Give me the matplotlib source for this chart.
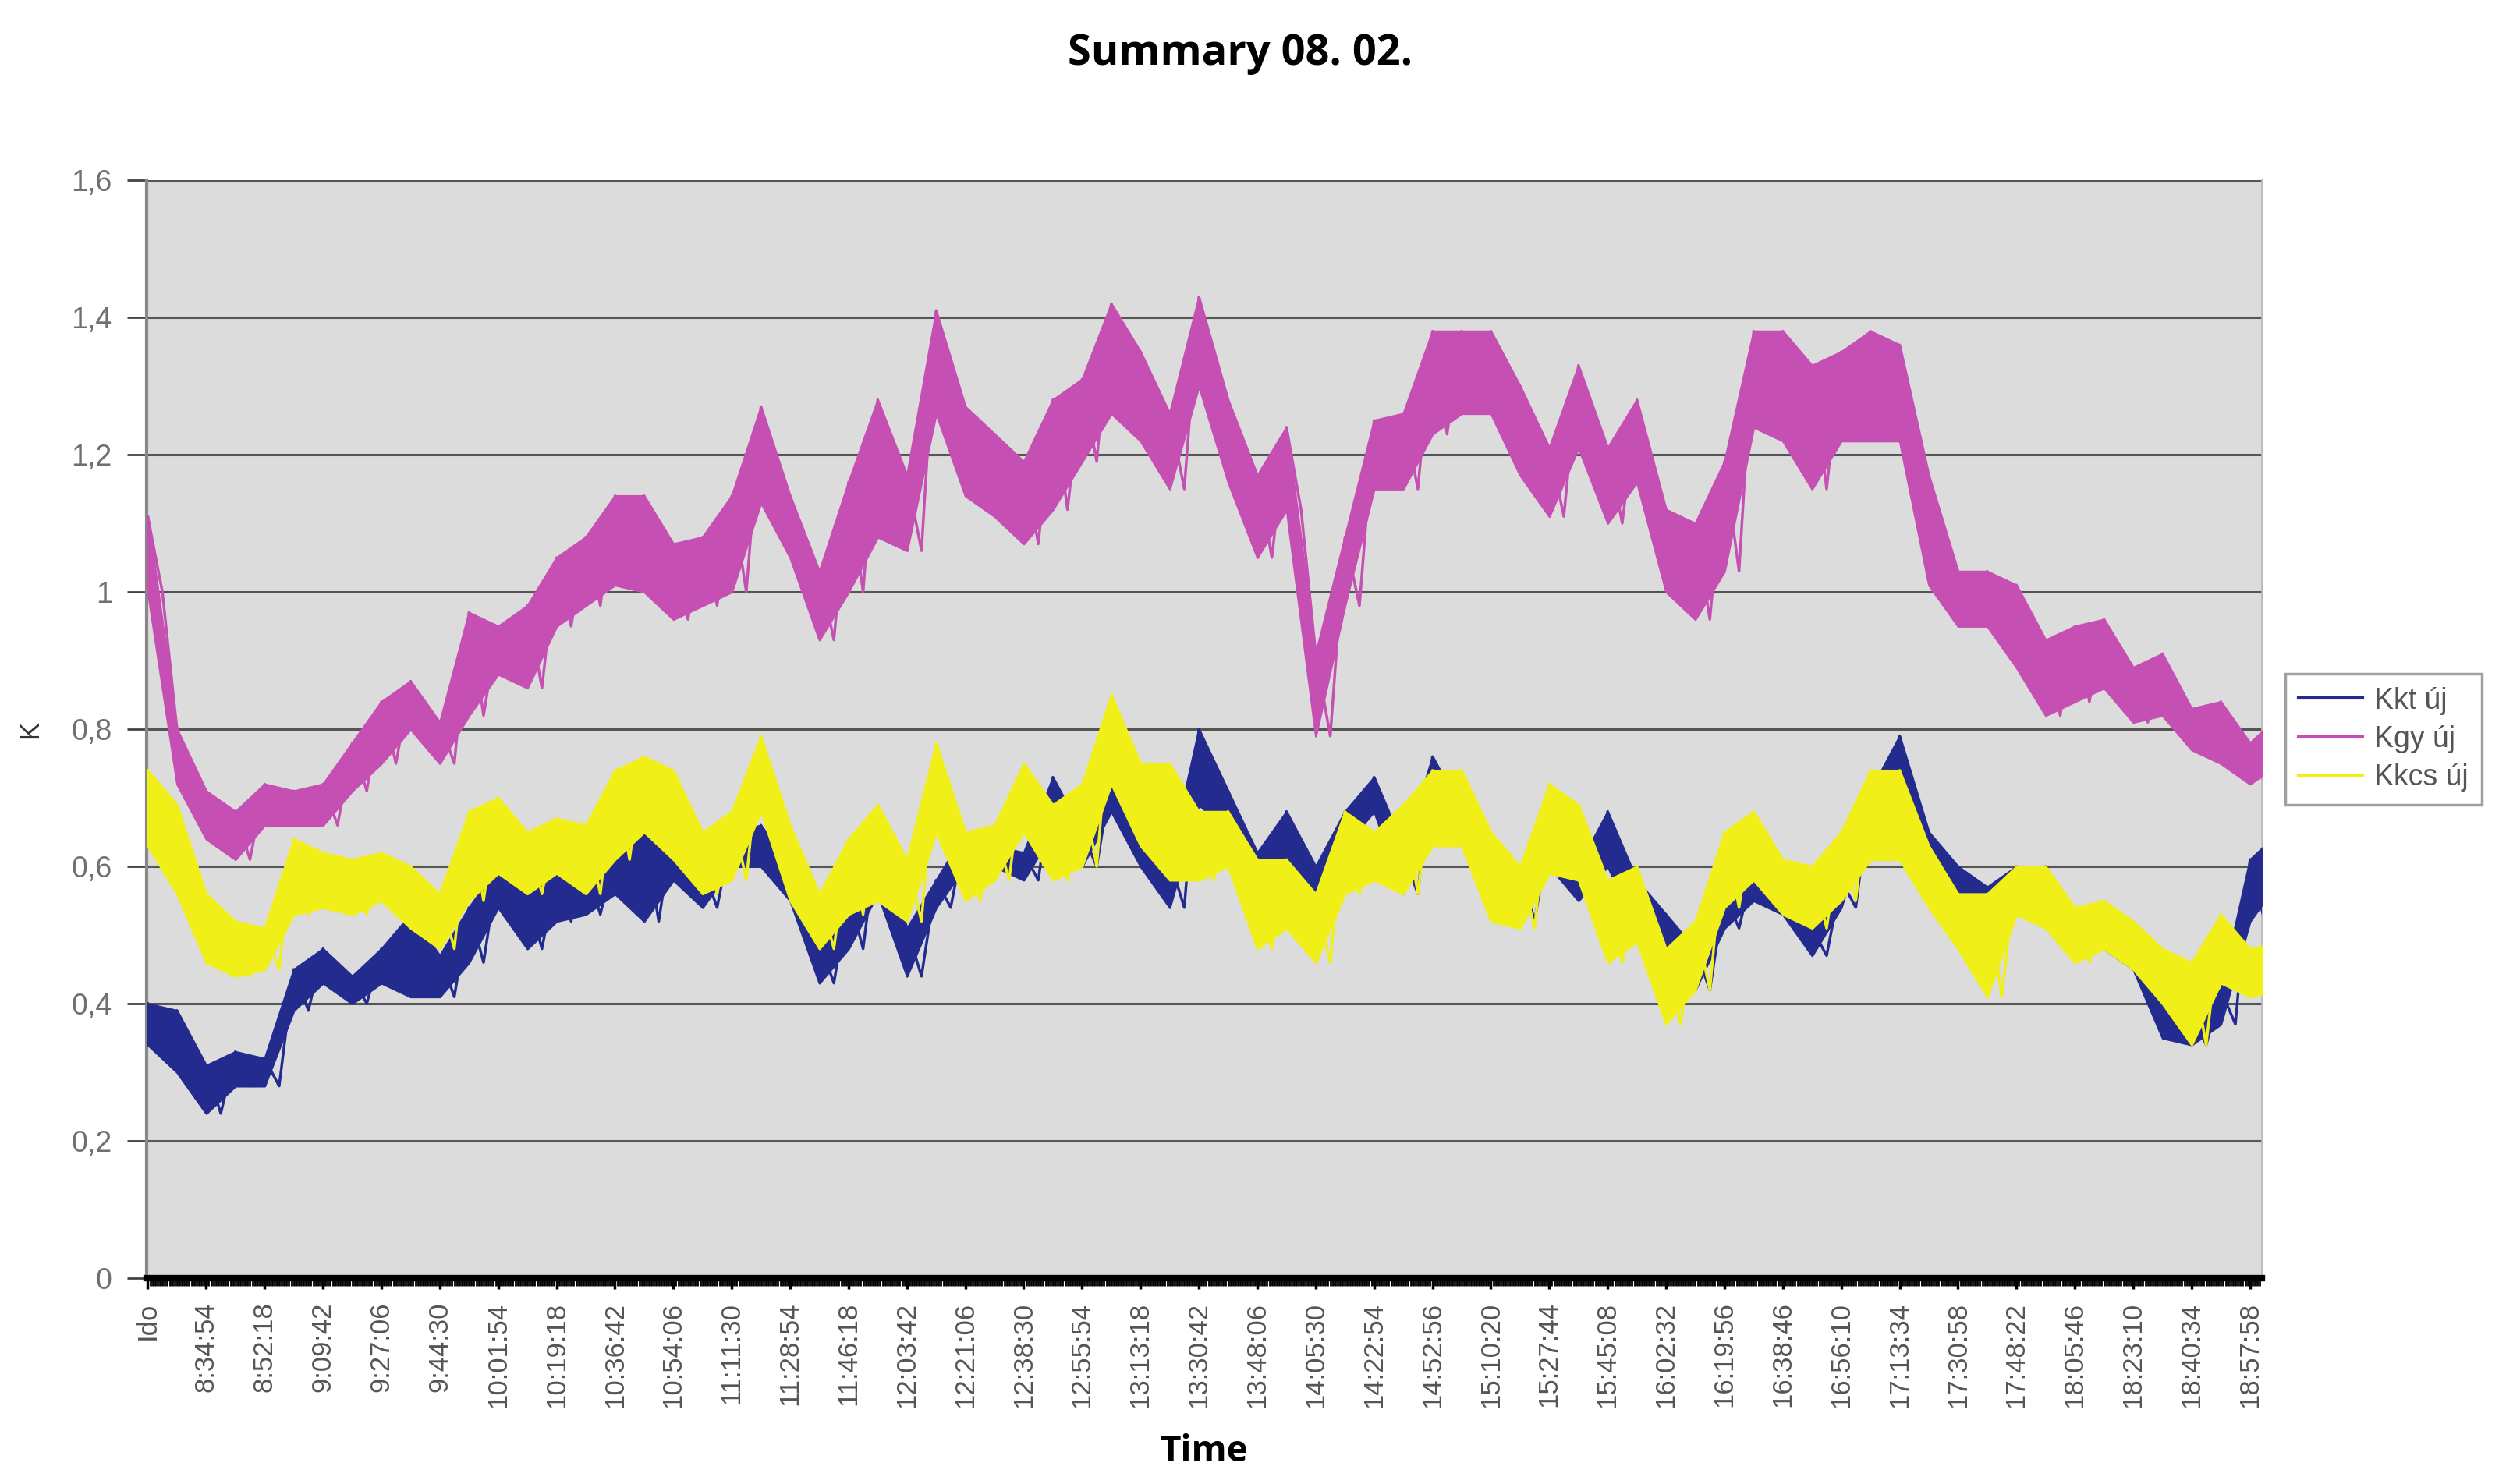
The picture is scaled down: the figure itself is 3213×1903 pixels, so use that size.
import numpy as np
import matplotlib
matplotlib.use("Agg")
import matplotlib.pyplot as plt
from matplotlib.lines import Line2D

# time labels on the category axis (one label every 17:24)
time_labels = ["Ido", "8:34:54", "8:52:18", "9:09:42", "9:27:06", "9:44:30",
               "10:01:54", "10:19:18", "10:36:42", "10:54:06", "11:11:30",
               "11:28:54", "11:46:18", "12:03:42", "12:21:06", "12:38:30",
               "12:55:54", "13:13:18", "13:30:42", "13:48:06", "14:05:30",
               "14:22:54", "14:52:56", "15:10:20", "15:27:44", "15:45:08",
               "16:02:32", "16:19:56", "16:38:46", "16:56:10", "17:13:34",
               "17:30:58", "17:48:22", "18:05:46", "18:23:10", "18:40:34",
               "18:57:58"]

# upper / lower edge of each noisy trace, read every half label step
kkt_hi = [0.40, 0.39, 0.31, 0.33, 0.32, 0.45, 0.48, 0.44, 0.48, 0.53, 0.47, 0.54,
          0.60, 0.56, 0.59, 0.60, 0.62, 0.65, 0.66, 0.60, 0.65, 0.66, 0.60, 0.49,
          0.56, 0.65, 0.51, 0.58, 0.65, 0.63, 0.62, 0.73, 0.65, 0.73, 0.65, 0.61,
          0.80, 0.71, 0.62, 0.68, 0.60, 0.68, 0.73, 0.62, 0.76, 0.68, 0.61, 0.60,
          0.65, 0.60, 0.68, 0.58, 0.53, 0.48, 0.56, 0.60, 0.56, 0.51, 0.58, 0.71,
          0.79, 0.65, 0.60, 0.57, 0.60, 0.60, 0.53, 0.51, 0.49, 0.40, 0.39, 0.42, 0.61, 0.65]
kkt_lo = [0.34, 0.30, 0.24, 0.28, 0.28, 0.39, 0.43, 0.40, 0.43, 0.41, 0.41, 0.46,
          0.54, 0.48, 0.52, 0.53, 0.56, 0.52, 0.58, 0.54, 0.60, 0.60, 0.55, 0.43,
          0.48, 0.56, 0.44, 0.54, 0.60, 0.60, 0.58, 0.65, 0.60, 0.68, 0.60, 0.54,
          0.69, 0.65, 0.56, 0.59, 0.53, 0.63, 0.68, 0.56, 0.72, 0.65, 0.56, 0.52,
          0.60, 0.55, 0.60, 0.51, 0.48, 0.42, 0.51, 0.55, 0.53, 0.47, 0.54, 0.68,
          0.70, 0.59, 0.56, 0.54, 0.55, 0.54, 0.50, 0.48, 0.45, 0.35, 0.34, 0.37, 0.52, 0.58]

kgy_hi = [1.11, 0.80, 0.71, 0.68, 0.72, 0.71, 0.72, 0.78, 0.84, 0.87, 0.81, 0.97,
          0.95, 0.98, 1.05, 1.08, 1.14, 1.14, 1.07, 1.08, 1.14, 1.27, 1.14, 1.03,
          1.16, 1.28, 1.17, 1.41, 1.27, 1.23, 1.19, 1.28, 1.31, 1.42, 1.35, 1.26,
          1.43, 1.28, 1.17, 1.24, 0.91, 1.08, 1.25, 1.26, 1.38, 1.38, 1.38, 1.30,
          1.21, 1.33, 1.21, 1.28, 1.12, 1.10, 1.19, 1.38, 1.38, 1.33, 1.35, 1.38,
          1.36, 1.17, 1.03, 1.03, 1.01, 0.93, 0.95, 0.96, 0.89, 0.91, 0.83, 0.84, 0.78, 0.82]
kgy_lo = [1.00, 0.72, 0.64, 0.61, 0.66, 0.66, 0.66, 0.71, 0.75, 0.80, 0.75, 0.82,
          0.88, 0.86, 0.95, 0.98, 1.01, 1.00, 0.96, 0.98, 1.00, 1.13, 1.05, 0.93,
          1.00, 1.08, 1.06, 1.26, 1.14, 1.11, 1.07, 1.12, 1.19, 1.26, 1.22, 1.15,
          1.30, 1.16, 1.05, 1.12, 0.79, 0.98, 1.15, 1.15, 1.23, 1.26, 1.26, 1.17,
          1.11, 1.21, 1.10, 1.16, 1.00, 0.96, 1.03, 1.24, 1.22, 1.15, 1.22, 1.22,
          1.22, 1.01, 0.95, 0.95, 0.89, 0.82, 0.84, 0.86, 0.81, 0.82, 0.77, 0.75, 0.72, 0.75]

kkcs_hi = [0.74, 0.69, 0.56, 0.52, 0.51, 0.64, 0.62, 0.61, 0.62, 0.60, 0.56, 0.68,
           0.70, 0.65, 0.67, 0.66, 0.74, 0.76, 0.74, 0.65, 0.68, 0.79, 0.66, 0.56,
           0.64, 0.69, 0.61, 0.78, 0.65, 0.66, 0.75, 0.69, 0.72, 0.85, 0.75, 0.75,
           0.68, 0.68, 0.61, 0.61, 0.56, 0.68, 0.65, 0.69, 0.74, 0.74, 0.65, 0.60,
           0.72, 0.69, 0.58, 0.60, 0.48, 0.52, 0.65, 0.68, 0.61, 0.60, 0.65, 0.74,
           0.74, 0.63, 0.56, 0.56, 0.60, 0.60, 0.54, 0.55, 0.52, 0.48, 0.46, 0.53, 0.48, 0.49]
kkcs_lo = [0.63, 0.56, 0.46, 0.44, 0.45, 0.53, 0.54, 0.53, 0.55, 0.51, 0.48, 0.55,
           0.59, 0.56, 0.59, 0.56, 0.61, 0.65, 0.61, 0.56, 0.58, 0.68, 0.55, 0.48,
           0.53, 0.55, 0.52, 0.65, 0.55, 0.58, 0.65, 0.58, 0.60, 0.72, 0.63, 0.58,
           0.58, 0.60, 0.48, 0.51, 0.46, 0.56, 0.58, 0.56, 0.63, 0.63, 0.52, 0.51,
           0.59, 0.58, 0.46, 0.49, 0.37, 0.42, 0.54, 0.58, 0.53, 0.51, 0.55, 0.61,
           0.61, 0.54, 0.48, 0.41, 0.53, 0.51, 0.46, 0.48, 0.45, 0.40, 0.34, 0.43, 0.41, 0.42]

series = [("Kkt új", kkt_hi, kkt_lo, "#232C8E"),
          ("Kgy új", kgy_hi, kgy_lo, "#C64FB3"),
          ("Kkcs új", kkcs_hi, kkcs_lo, "#F0F018")]

plt.rcParams["font.family"] = ["Liberation Sans", "DejaVu Sans"]

fig = plt.figure(figsize=(32.13, 19.03), dpi=100)
ax = fig.add_axes([0.0585, 0.1387, 0.844, 0.7399])
ax.set_facecolor("#DCDCDC")

step = 0.5  # samples every half label interval
for name, hi, lo, col in series:
    hi = np.array(hi)
    lo = np.array(lo)
    x = np.arange(len(hi)) * step
    ax.fill_between(x, lo, hi, color=col, lw=2, zorder=3)
    # zig-zag between the edges to get the jittery look
    zx = np.ravel(np.column_stack([x, x + step / 2]))
    zy = np.ravel(np.column_stack([hi, lo]))
    ax.plot(zx, zy, color=col, lw=2.5, zorder=3)

ax.set_ylim(0, 1.6)
ax.set_xlim(-0.02, 36.2)
ax.set_yticks(np.arange(0, 1.61, 0.2))
ax.set_yticklabels(["0", "0,2", "0,4", "0,6", "0,8", "1", "1,2", "1,4", "1,6"])
ax.yaxis.grid(True, color="#555555", lw=2.2)
ax.set_axisbelow(True)

ax.set_xticks(np.arange(len(time_labels)))
ax.set_xticklabels(time_labels, rotation=90)
ax.set_xticks(np.arange(0, 36.2, 1 / 24), minor=True)

ax.tick_params(axis="y", labelsize=27, labelcolor="#707070", color="#444444",
               length=18, width=2, pad=14)
ax.tick_params(axis="x", which="major", labelsize=25, labelcolor="#555555",
               color="black", length=10, width=2.5, pad=12)
ax.tick_params(axis="x", which="minor", color="black", length=7, width=2)

ax.spines["top"].set_visible(False)
ax.spines["right"].set_color("#BBBBBB")
ax.spines["right"].set_linewidth(2)
ax.spines["left"].set_color("#888888")
ax.spines["left"].set_linewidth(3)
ax.spines["bottom"].set_color("black")
ax.spines["bottom"].set_linewidth(6)

ax.set_ylabel("K", fontsize=25, color="#333333", labelpad=26)
ax.set_xlabel("Time", fontsize=33, fontweight="bold", family="Open Sans", labelpad=24)

fig.text(0.495, 0.964, "Summary 08. 02.", fontsize=39, fontweight="bold",
         family="Open Sans", ha="center", va="center")

handles = [Line2D([], [], color=col, lw=3) for _, _, _, col in series]
leg = fig.legend(handles, [s[0] for s in series], loc="upper left",
                 bbox_to_anchor=(0.906, 0.556), fontsize=27, frameon=True,
                 fancybox=False, edgecolor="#888888", handlelength=2.2,
                 handletextpad=0.4, labelspacing=0.35, borderpad=0.45)
leg.get_frame().set_linewidth(2.5)
for t in leg.get_texts():
    t.set_color("#555555")

fig.savefig("out.png", dpi=100, facecolor="white")
